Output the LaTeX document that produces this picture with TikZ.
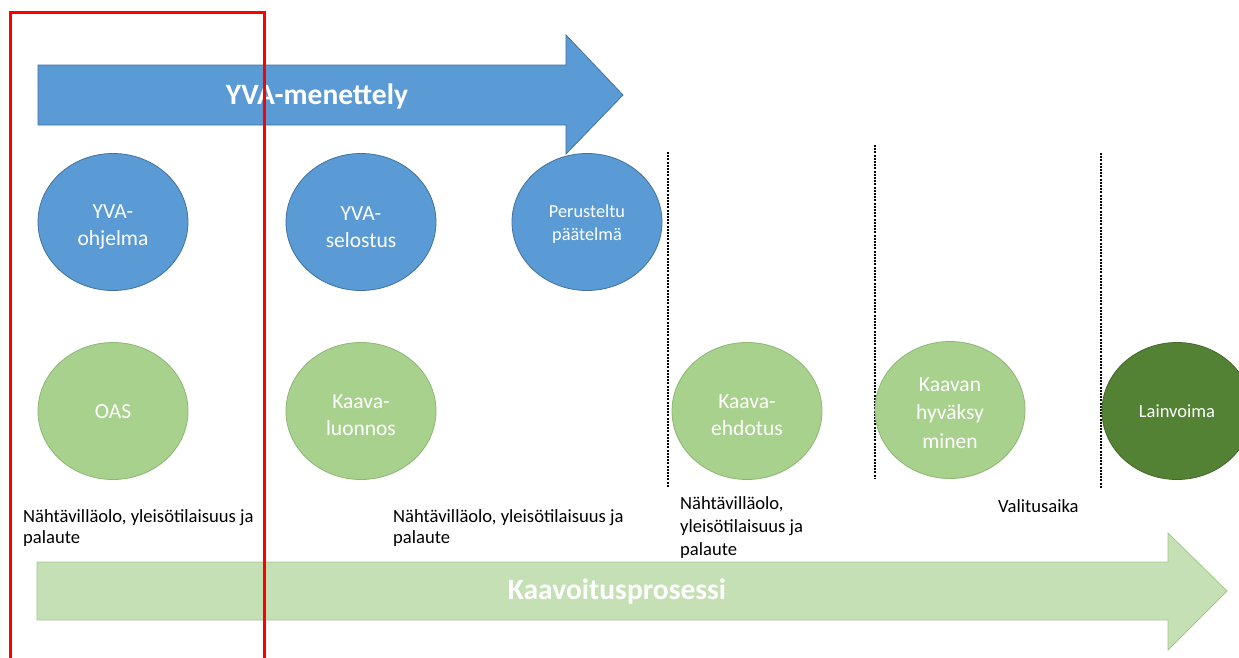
\documentclass[tikz,border=0pt]{standalone}
\usepackage{fontspec}
\setmainfont{Carlito}
\usetikzlibrary{shapes.geometric}
\definecolor{blueF}{HTML}{5B9BD5}
\definecolor{blueE}{HTML}{41719C}
\definecolor{greenF}{HTML}{A9D18E}
\definecolor{greenE}{HTML}{8DB673}
\definecolor{darkG}{HTML}{548235}
\definecolor{arrowG}{HTML}{C5E0B4}
\definecolor{arrowGE}{HTML}{A2C98A}
\tikzset{
  circbase/.style={ellipse, minimum width=150pt, minimum height=137pt, inner sep=0pt, line width=0.8pt},
  bluecirc/.style={circbase, draw=blueE, fill=blueF},
  greencirc/.style={circbase, draw=greenE, fill=greenF},
  darkcirc/.style={circbase, draw=darkG!80!black, fill=darkG},
  ctext/.style={align=center, text=white, inner sep=0pt, font=\fontsize{21.5}{27.5}\selectfont},
  lbl/.style={anchor=base west, align=left, inner sep=0pt, font=\fontsize{18.6}{21}\selectfont},
  sep/.style={line width=1.1pt, dash pattern=on 2pt off 1.2pt},
  bigtxt/.style={text=white, font=\fontsize{29.5}{32}\selectfont\bfseries}
}
\begin{document}
\begin{tikzpicture}[x=1pt,y=-1pt]
\useasboundingbox (0,0) rectangle (1239,657);
\fill[white] (0,0) rectangle (1239,657);
% blue arrow
\draw[fill=blueF, draw=blueE, line width=0.8pt] (38,65) -- (566,65) -- (566,35) -- (623,95) -- (566,154) -- (566,125) -- (38,125) -- cycle;
\node[bigtxt] (yva) at (317,96) {YVA-menettely};
% green arrow
\draw[fill=arrowG, draw=arrowGE, line width=0.8pt] (37,562) -- (1168,562) -- (1168,533) -- (1227,591) -- (1168,650) -- (1168,620) -- (37,620) -- cycle;
\node[bigtxt] (kp) at (617,591) {Kaavoitusprosessi};
% dashed separators
\coordinate (d1a) at (668,152); \coordinate (d1b) at (668,487);
\coordinate (d2a) at (875,145); \coordinate (d2b) at (875,478);
\coordinate (d3a) at (1101,153); \coordinate (d3b) at (1101,488);
\draw[sep] (d1a) -- (d1b);
\draw[sep] (d2a) -- (d2b);
\draw[sep] (d3a) -- (d3b);
% blue circles
\node[bluecirc] (yvao) at (113,222) {};
\node[ctext] (t-yvao) at ([yshift=-5pt]yvao.center) {YVA-\\ohjelma};
\node[bluecirc] (yvas) at (361,222) {};
\node[ctext] (t-yvas) at ([yshift=-5pt]yvas.center) {YVA-\\selostus};
\node[bluecirc] (pp) at (587,222) {};
\node[ctext, font=\fontsize{18.3}{23}\selectfont] (t-pp) at ([yshift=-2pt]pp.center) {Perusteltu\\päätelmä};
% green circles
\node[greencirc] (oas) at (113,411) {};
\node[ctext] (t-oas) at ([yshift=-1pt]oas.center) {OAS};
\node[greencirc] (kl) at (361,411) {};
\node[ctext] (t-kl) at ([yshift=-4pt]kl.center) {Kaava-\\luonnos};
\node[greencirc] (ke) at (747,411) {};
\node[ctext] (t-ke) at ([yshift=-4pt]ke.center) {Kaava-\\ehdotus};
\node[greencirc] (kh) at (950,410) {};
\node[ctext, font=\fontsize{21.5}{28.5}\selectfont] (t-kh) at ([yshift=-3pt]kh.center) {Kaavan\\hyväksy\\minen};
\node[darkcirc] (lv) at (1177,411) {};
\node[ctext, font=\fontsize{18.5}{22}\selectfont] (t-lv) at (lv.center) {Lainvoima};
% labels
\node[lbl] (l1) at (23,543) {Nähtävilläolo, yleisötilaisuus ja\\palaute};
\node[lbl] (l2) at (393,543) {Nähtävilläolo, yleisötilaisuus ja\\palaute};
\node[lbl, font=\fontsize{18.6}{23}\selectfont] (l3) at (680,555) {Nähtävilläolo,\\yleisötilaisuus ja\\palaute};
\node[lbl] (l4) at (998,512) {Valitusaika};
% red frame
\draw[red, line width=3pt] (10,680) -- (10,12) -- (264,12) -- (264,680);
\end{tikzpicture}
\end{document}
